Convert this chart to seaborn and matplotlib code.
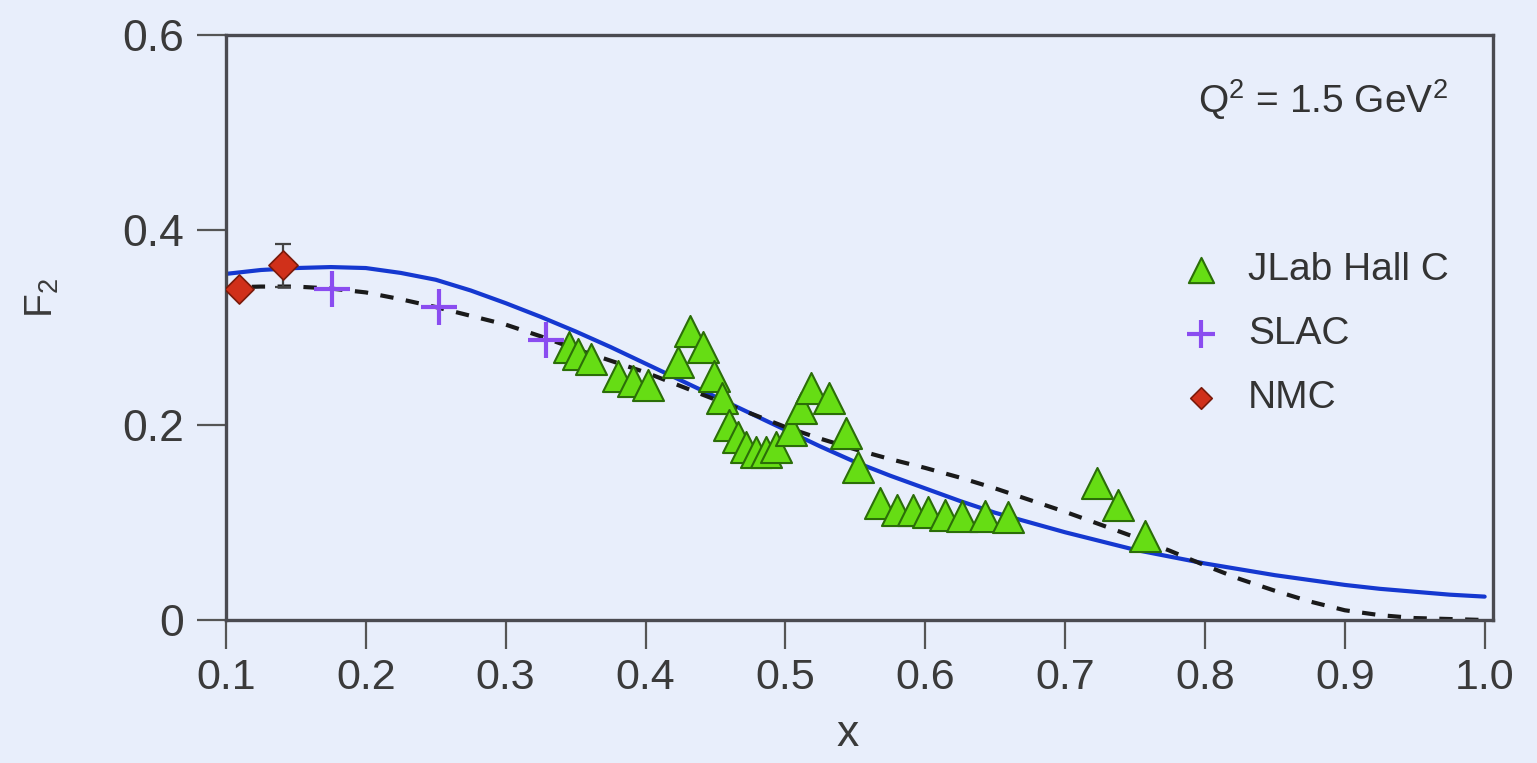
import numpy as np
import pandas as pd
import matplotlib
matplotlib.use("Agg")
import matplotlib.pyplot as plt
import seaborn as sns

# ---------------- data ----------------
jlab_x = [0.345, 0.352, 0.361, 0.380, 0.391, 0.402, 0.423, 0.432, 0.441, 0.449,
          0.455, 0.460, 0.466, 0.472, 0.479, 0.486, 0.493, 0.504, 0.511, 0.518,
          0.531, 0.543, 0.552, 0.568, 0.580, 0.591, 0.602, 0.614, 0.626, 0.643,
          0.659, 0.723, 0.738, 0.757]
jlab_y = [0.280, 0.273, 0.268, 0.250, 0.245, 0.241, 0.265, 0.296, 0.280, 0.250,
          0.228, 0.200, 0.188, 0.177, 0.172, 0.172, 0.177, 0.195, 0.217, 0.238,
          0.228, 0.192, 0.157, 0.120, 0.113, 0.113, 0.111, 0.108, 0.107, 0.107,
          0.106, 0.141, 0.118, 0.086]

slac_x = [0.176, 0.252, 0.329]
slac_y = [0.339, 0.321, 0.287]

nmc_x = [0.109, 0.141]
nmc_y = [0.339, 0.364]
nmc_err = [0.004, 0.022]

curve_x = [0.100, 0.125, 0.150, 0.175, 0.200, 0.225, 0.250, 0.275, 0.300, 0.325,
           0.350, 0.375, 0.400, 0.425, 0.450, 0.475, 0.500, 0.525, 0.550, 0.575,
           0.600, 0.625, 0.650, 0.675, 0.700, 0.725, 0.750, 0.775, 0.800, 0.825,
           0.850, 0.875, 0.900, 0.925, 0.950, 0.975, 1.000]
fit_solid = [0.355, 0.359, 0.361, 0.362, 0.361, 0.356, 0.349, 0.338, 0.325, 0.311,
             0.296, 0.280, 0.263, 0.246, 0.229, 0.212, 0.195, 0.178, 0.162, 0.148,
             0.135, 0.122, 0.110, 0.100, 0.090, 0.081, 0.072, 0.065, 0.058, 0.052,
             0.046, 0.041, 0.036, 0.032, 0.029, 0.026, 0.024]
fit_dashed = [0.341, 0.342, 0.342, 0.340, 0.336, 0.329, 0.321, 0.312, 0.303, 0.291,
              0.278, 0.266, 0.254, 0.240, 0.226, 0.212, 0.198, 0.186, 0.175, 0.165,
              0.156, 0.146, 0.135, 0.123, 0.111, 0.098, 0.085, 0.071, 0.056, 0.042,
              0.030, 0.019, 0.010, 0.005, 0.002, 0.001, 0.000]

x_ticks = [0.1, 0.2, 0.3, 0.4, 0.5, 0.6, 0.7, 0.8, 0.9, 1.0]
x_tick_labels = ["0.1", "0.2", "0.3", "0.4", "0.5", "0.6", "0.7", "0.8", "0.9", "1.0"]
y_ticks = [0, 0.2, 0.4, 0.6]
y_tick_labels = ["0", "0.2", "0.4", "0.6"]

labels = ["JLab Hall C", "SLAC", "NMC"]
annotation = "Q$^2$ = 1.5 GeV$^2$"

# ---------------- styling ----------------
bg = "#E8EEFB"
axis_col = "#4a4a50"
sns.set_theme(style="ticks")
plt.rcParams['font.family'] = ['Liberation Sans', 'DejaVu Sans']
plt.rcParams['mathtext.fontset'] = 'custom'
plt.rcParams['mathtext.rm'] = 'Liberation Sans'
plt.rcParams['mathtext.it'] = 'Liberation Sans'
plt.rcParams['axes.edgecolor'] = axis_col

fig = plt.figure(figsize=(15.37, 7.63), dpi=100, facecolor=bg)
ax = fig.add_axes([0.147, 0.1874, 0.8244, 0.7667], facecolor=bg)

curves = pd.DataFrame({"x": curve_x, "solid": fit_solid, "dashed": fit_dashed})
sns.lineplot(data=curves, x="x", y="solid", ax=ax, color="#1538D0", lw=3.0, zorder=2)
sns.lineplot(data=curves, x="x", y="dashed", ax=ax, color="#1a1a1a", lw=3.0, zorder=2)
ax.lines[-1].set_dashes([3.2, 3.0])

jl = pd.DataFrame({"x": jlab_x, "y": jlab_y})
sl = pd.DataFrame({"x": slac_x, "y": slac_y})
nm = pd.DataFrame({"x": nmc_x, "y": nmc_y})

ax.errorbar(nmc_x, nmc_y, yerr=nmc_err, fmt="none", ecolor="#444444",
            elinewidth=1.6, capsize=6, capthick=1.6, zorder=3)

sns.scatterplot(data=jl, x="x", y="y", ax=ax, marker="^", s=500,
                color="#66DD14", edgecolor="#2B6E08", linewidth=1.5, zorder=4,
                label=labels[0])
sns.scatterplot(data=sl, x="x", y="y", ax=ax, marker="+", s=650,
                color="#8A4CF0", linewidth=3.0, zorder=4, label=labels[1])
sns.scatterplot(data=nm, x="x", y="y", ax=ax, marker="D", s=220,
                color="#D0301A", edgecolor="#7A1A0A", linewidth=1.2, zorder=5,
                label=labels[2])

ax.set_xlim(0.1, 1.006)
ax.set_ylim(0, 0.6)
ax.set_xticks(x_ticks)
ax.set_xticklabels(x_tick_labels)
ax.set_yticks(y_ticks)
ax.set_yticklabels(y_tick_labels)

for sp in ax.spines.values():
    sp.set_visible(True)
    sp.set_linewidth(2.4)
    sp.set_color(axis_col)

ax.tick_params(axis="x", direction="out", length=21, width=1.6, colors="#555555",
               labelcolor="#3a3a3a", labelsize=31, pad=6)
ax.tick_params(axis="y", direction="out", length=21, width=1.6, colors="#555555",
               labelcolor="#3a3a3a", labelsize=32, pad=9)

ax.set_xlabel("x", fontsize=32, color="#3a3a3a")
ax.xaxis.set_label_coords(0.491, -0.16)
ax.set_ylabel("F$_2$", fontsize=28, color="#3a3a3a")
ax.yaxis.set_label_coords(-0.13, 0.55)

ax.text(0.767, 0.889, annotation, transform=ax.transAxes, fontsize=28,
        color="#333333", va="center", ha="left")

leg = ax.legend(loc="upper left", bbox_to_anchor=(0.73, 0.676), frameon=False,
                fontsize=28, handletextpad=0.6, labelspacing=0.72,
                borderpad=0.2, handlelength=1.2)
for t in leg.get_texts():
    t.set_color("#333333")
hs = leg.legend_handles
hs[0].set_sizes([330])
hs[1].set_sizes([420])
hs[2].set_sizes([120])

fig.savefig("out.png", dpi=100, facecolor=bg)
